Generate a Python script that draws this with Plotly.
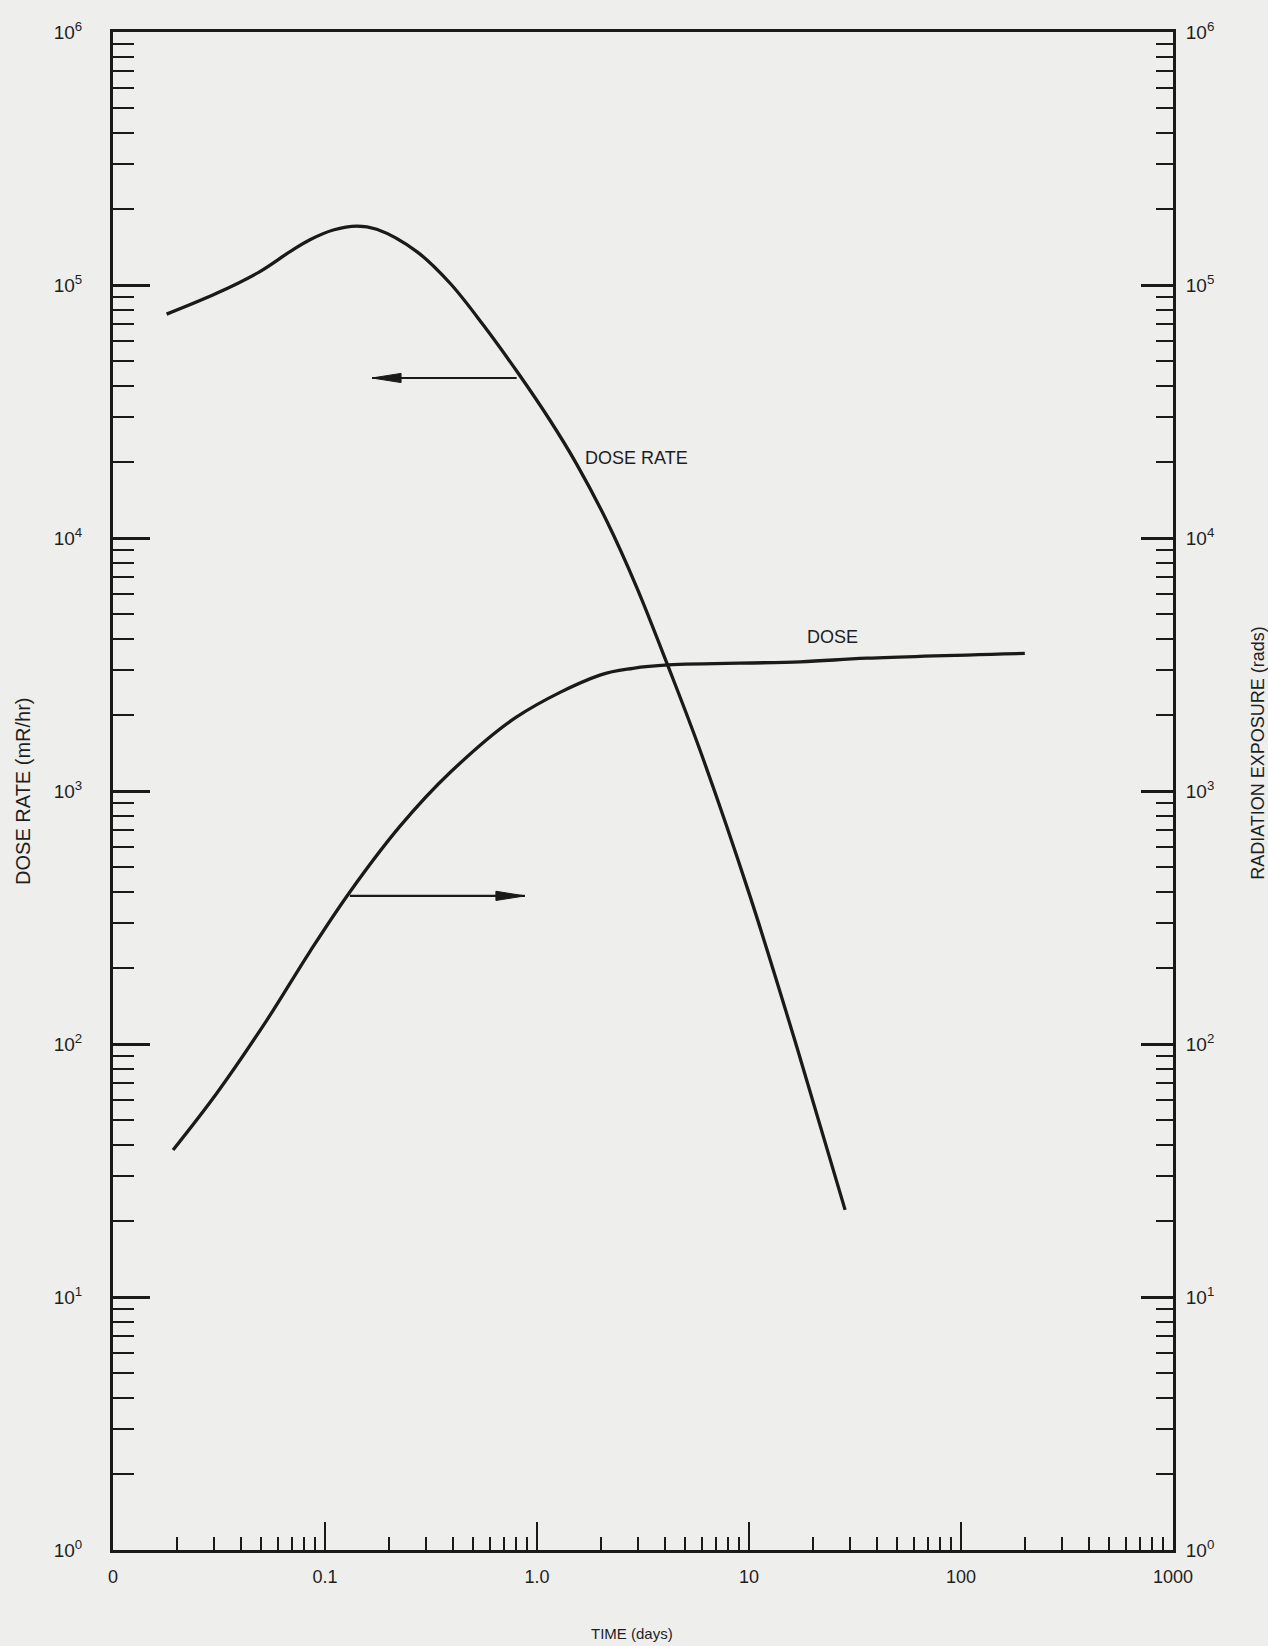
import math
import plotly.graph_objects as go

# ---------------- data ----------------
rate_time = [0.0179, 0.0308, 0.0493, 0.0684, 0.0849, 0.1094, 0.1412, 0.1754, 0.271, 0.389,
             0.558, 0.802, 1.151, 1.538, 2.13, 2.95, 4.16, 5.87, 10.1, 16.8, 28.4]
rate_value = [76700, 92700, 113000, 135500, 151000, 165000, 171000, 166000, 135500, 101600,
              69500, 45700, 29200, 19600, 11700, 6400, 3100, 1452, 385, 97.5, 22.1]

dose_time = [0.0192, 0.0308, 0.0531, 0.0849, 0.131, 0.226, 0.389, 0.802, 1.98, 2.84,
             4.16, 17.4, 35.9, 200]
dose_value = [38.1, 63.7, 124, 232, 399, 726, 1183, 1963, 2870, 3055,
              3150, 3240, 3350, 3500]

x_tick_vals = [0.01, 0.1, 1, 10, 100, 1000]
x_tick_text = ["0", "0.1", "1.0", "10", "100", "1000"]
y_tick_vals = [1, 10, 100, 1000, 10000, 100000, 1000000]
y_tick_text = ["10<sup>0</sup>", "10<sup>1</sup>", "10<sup>2</sup>", "10<sup>3</sup>",
               "10<sup>4</sup>", "10<sup>5</sup>", "10<sup>6</sup>"]

# arrows: (tail time, tip time, value)
arrow_rate = (0.802, 0.1667, 42900)
arrow_dose = (0.131, 0.877, 385)

# curve labels: (text, time, value)
curve_labels = [("DOSE RATE", 1.65, 20700), ("DOSE", 18.4, 4060)]

x_title = "TIME (days)"
y_title = "DOSE RATE (mR/hr)"
y2_title = "RADIATION EXPOSURE (rads)"

# ---------------- styling ----------------
INK = "#1a1a1a"
TXT = "#1e1e1e"
BG = "#eeeeec"
FONT = "Liberation Sans, Arial, sans-serif"

minor_x = [m * 10 ** e for e in range(-2, 3) for m in range(2, 10)]
minor_y = [m * 10 ** e for e in range(0, 6) for m in range(2, 10)]

fig = go.Figure()
fig.add_trace(go.Scatter(x=rate_time, y=rate_value, mode="lines",
                         line=dict(color=INK, width=3.3, shape="spline", smoothing=1.0),
                         showlegend=False, hoverinfo="skip"))
fig.add_trace(go.Scatter(x=dose_time, y=dose_value, mode="lines", yaxis="y2",
                         line=dict(color=INK, width=3.3, shape="spline", smoothing=1.0),
                         showlegend=False, hoverinfo="skip"))

shapes = []
for tail, tip, val in (arrow_rate, arrow_dose):
    direction = 1 if tail > tip else -1   # +1: head points left
    shapes.append(dict(type="line", xref="x", yref="y", x0=tail, x1=tip, y0=val, y1=val,
                       line=dict(color=INK, width=2.2)))
    hl, hw = 29, 4.6
    shapes.append(dict(type="path", xref="x", yref="y", xsizemode="pixel", ysizemode="pixel",
                       xanchor=tip, yanchor=val,
                       path=f"M0,0 L{direction * hl},{hw} L{direction * hl},{-hw} Z",
                       fillcolor=INK, line=dict(color=INK, width=1)))

annotations = []
for txt, t, v in curve_labels:
    annotations.append(dict(
        x=math.log10(t), y=math.log10(v), xref="x", yref="y", text=txt,
        showarrow=False, xanchor="left", yanchor="middle",
        font=dict(family=FONT, size=18, color=TXT)))

annotations += [
    dict(text=x_title, xref="paper", yref="paper", x=0.49, y=-0.0553,
         xanchor="center", yanchor="middle", showarrow=False,
         font=dict(family=FONT, size=15, color=TXT)),
    dict(text=y_title, xref="paper", yref="paper", x=-0.085, y=0.50,
         xanchor="center", yanchor="middle", showarrow=False, textangle=-90,
         font=dict(family=FONT, size=20, color=TXT)),
    dict(text=y2_title, xref="paper", yref="paper", x=1.080, y=0.525,
         xanchor="center", yanchor="middle", showarrow=False, textangle=-90,
         font=dict(family=FONT, size=18, color=TXT)),
]

common_y = dict(type="log", range=[0, 6], tickmode="array", tickvals=y_tick_vals,
                ticktext=y_tick_text, tickcolor=INK, ticks="inside", tickwidth=2.6,
                showline=True, linecolor=INK, linewidth=3,
                showgrid=False, zeroline=False,
                tickfont=dict(family=FONT, size=19, color=TXT))

fig.update_layout(
    width=1268, height=1646,
    margin=dict(l=113, r=95, t=32, b=96),
    paper_bgcolor=BG, plot_bgcolor=BG,
    showlegend=False,
    xaxis=dict(type="log", range=[-2, 3], tickmode="array", tickvals=x_tick_vals,
               ticktext=x_tick_text, ticks="inside", ticklen=28, tickwidth=2.4,
               tickcolor=INK, showline=True, linecolor=INK, linewidth=3, mirror=True,
               showgrid=False, zeroline=False, ticklabelstandoff=8,
               tickfont=dict(family=FONT, size=18, color=TXT),
               minor=dict(tickmode="array", tickvals=minor_x, ticks="inside",
                          ticklen=13, tickwidth=2.2, tickcolor=INK, showgrid=False)),
    yaxis=dict(**common_y, side="left", ticklen=37, ticklabelstandoff=24,
               minor=dict(tickmode="array", tickvals=minor_y, ticks="inside",
                          ticklen=21, tickwidth=2.4, tickcolor=INK, showgrid=False)),
    yaxis2=dict(**common_y, side="right", overlaying="y", ticklen=32, ticklabelstandoff=6,
                minor=dict(tickmode="array", tickvals=minor_y, ticks="inside",
                           ticklen=17, tickwidth=2.4, tickcolor=INK, showgrid=False)),
    shapes=shapes,
    annotations=annotations,
)

fig.write_html("out.html", config={"displayModeBar": False},
               post_script="document.body.style.margin='0';document.body.style.overflow='hidden';"
                           "document.body.style.background='" + BG + "';")
